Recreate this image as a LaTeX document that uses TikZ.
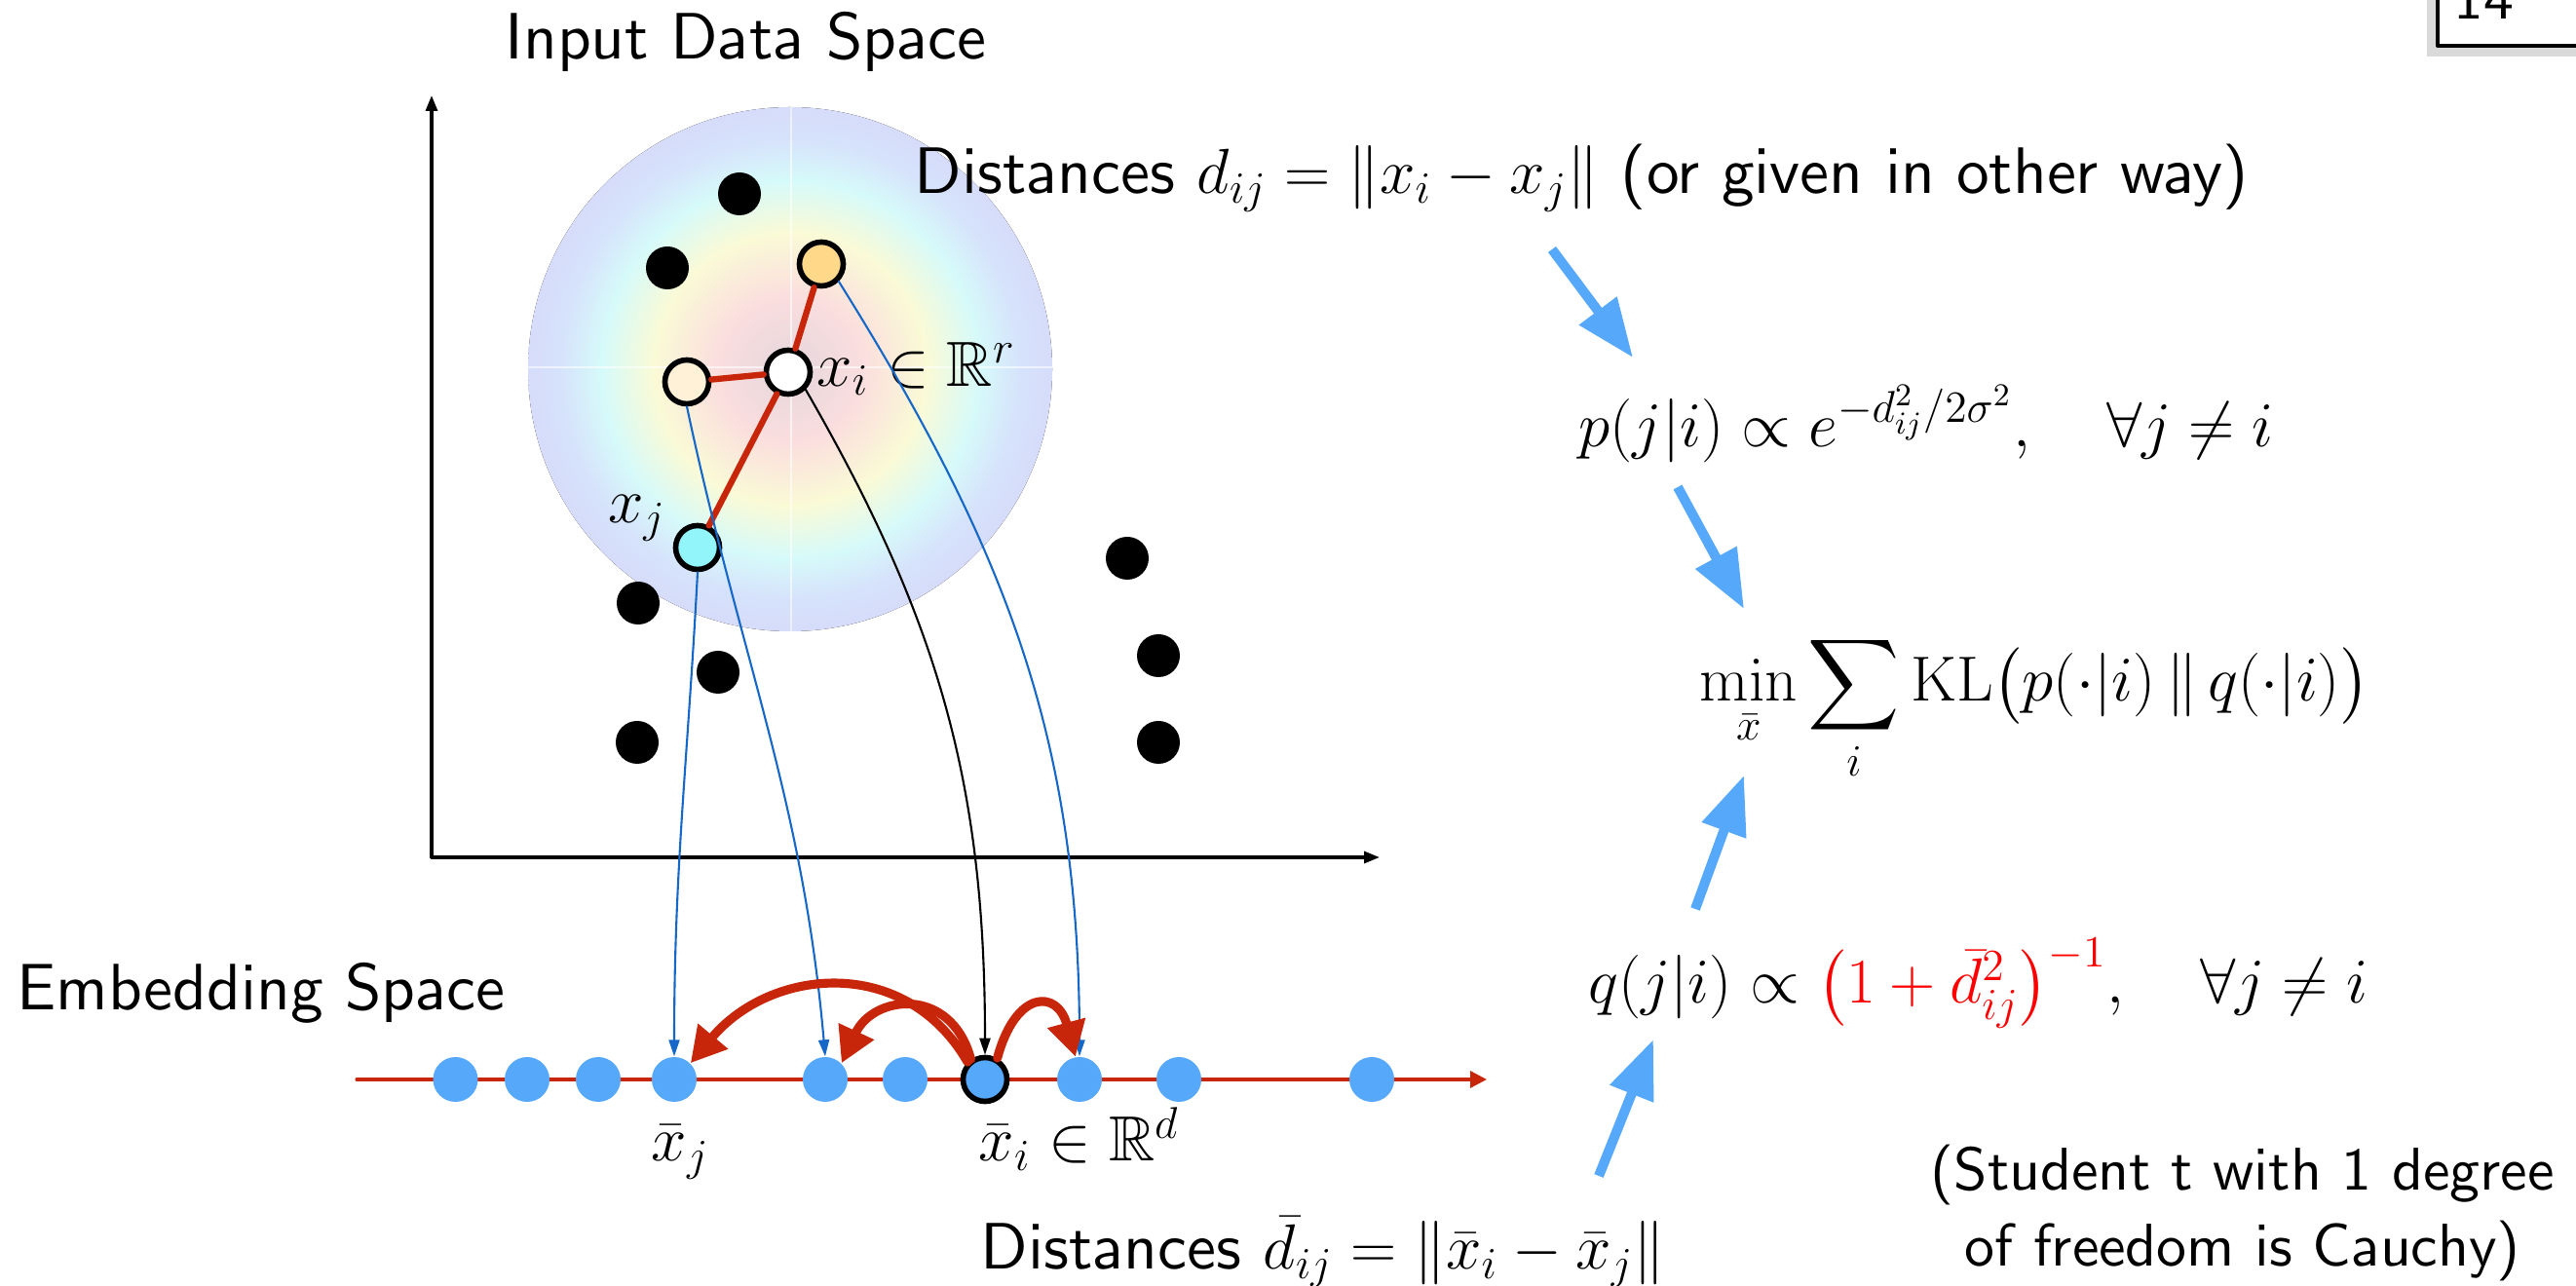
\RequirePackage{fix-cm}
\documentclass[tikz,border=0pt]{standalone}
\usepackage{amsmath,amssymb}
\usepackage{xcolor}
\usetikzlibrary{arrows.meta,calc,positioning,shadows}
\DeclareFontFamily{OT1}{slidess}{}
\DeclareFontShape{OT1}{slidess}{m}{n}{<-> s*[1.03] cmss10}{}
\newcommand{\slidefont}[1]{\fontsize{#1}{1.2\dimexpr#1pt\relax}\fontencoding{OT1}\fontfamily{slidess}\selectfont}
\definecolor{tsnered}{RGB}{200,38,10}
\definecolor{tsneblue}{RGB}{86,168,250}
\definecolor{linkblue}{RGB}{22,104,200}
\definecolor{nodeorange}{RGB}{255,216,138}
\definecolor{nodecream}{RGB}{255,240,216}
\definecolor{nodecyan}{RGB}{145,245,250}
\definecolor{blobA}{RGB}{228,214,220}
\definecolor{blobB}{RGB}{251,222,222}
\definecolor{blobC}{RGB}{250,250,214}
\definecolor{blobD}{RGB}{214,250,250}
\definecolor{blobE}{RGB}{214,226,251}
\definecolor{blobF}{RGB}{214,220,250}
\pgfdeclareradialshading{gaussblob}{\pgfpointorigin}{%
  color(0bp)=(blobA); color(7bp)=(blobB); color(13bp)=(blobC);
  color(18bp)=(blobD); color(22bp)=(blobE); color(25bp)=(blobF); color(50bp)=(blobF)}
\tikzset{
  datapt/.style={circle, fill=black, minimum size=0.44cm, inner sep=0pt},
  selpt/.style={circle, draw=black, line width=1.6pt, minimum size=0.45cm, inner sep=0pt},
  embpt/.style={circle, fill=tsneblue, minimum size=0.46cm, inner sep=0pt},
  lbl/.style={inner sep=0pt},
  nbredge/.style={tsnered, line width=1.8pt},
  maplink/.style={linkblue, line width=0.6pt, -{Triangle[length=0.17cm,width=0.11cm]}},
  pullarrow/.style={tsnered, line width=2.6pt, -{Triangle[length=0.36cm,width=0.38cm]}},
  flowarrow/.style={tsneblue, line width=0.1cm, line cap=butt, -{Triangle[length=0.6cm,width=0.46cm]}},
}
\begin{document}
\begin{tikzpicture}[>=Stealth, line cap=round, line join=round, font=\slidefont{18.6}]
  \path[use as bounding box] (0,0) rectangle (26.44,13.19);

  % input space: soft neighbourhood around x_i
  \fill[shading=gaussblob] (8.11,9.40) circle (2.69);
  \draw[white, opacity=0.6, line width=0.6pt] (5.42,9.42) -- (10.80,9.42) (8.12,6.71) -- (8.12,12.09);

  \coordinate (orig) at (4.43,4.39);
  \draw[line width=0.9pt, -{Triangle[length=0.16cm,width=0.12cm]}] (orig) -- (4.43,12.21);
  \draw[line width=0.9pt, -{Triangle[length=0.16cm,width=0.12cm]}] (orig) -- (14.16,4.39);
  \node[lbl, anchor=base west] (intitle) at (5.18,12.58) {Input Data Space};

  \foreach \x/\y [count=\i] in {7.59/11.20, 6.85/10.44, 6.55/7.00, 7.37/6.29, 6.54/5.57,
                                11.57/7.46, 11.89/6.46, 11.89/5.57}
    \node[datapt] (d\i) at (\x,\y) {};

  \node[selpt, fill=nodeorange] (xk) at (8.43,10.48) {};
  \node[selpt, fill=nodecream] (xl) at (7.05,9.27) {};
  \node[selpt, fill=white] (xi) at (8.09,9.37) {};
  \node[selpt, fill=nodecyan] (xj) at (7.16,7.57) {};
  \draw[nbredge] (xk) -- (xi) (xl) -- (xi) (xi) -- (xj);
  \node[lbl, anchor=base west] (xilab) at ([xshift=1pt,yshift=-4pt]xi.east) {$x_i \in \mathbb{R}^r$};
  \node[lbl, anchor=base east] (xjlab) at (6.84,7.82) {$x_j$};

  % embedding space
  \node[lbl, anchor=base west] (embtitle) at (0.17,2.82) {Embedding Space};
  \draw[tsnered, line width=0.9pt, -{Triangle[length=0.17cm,width=0.17cm]}] (3.66,2.11) -- (15.26,2.11);
  \foreach \x/\i in {4.675/1, 5.41/2, 6.14/3, 6.92/4, 8.47/5, 9.29/6, 11.08/8, 12.10/9, 14.08/10}
    \node[embpt] (e\i) at (\x,2.11) {};
  \node[selpt, fill=tsneblue] (xbi) at (10.11,2.11) {};
  \node[lbl, anchor=base west] (xbjlab) at (6.68,1.27) {$\bar{x}_j$};
  \node[lbl, anchor=base west] (xbilab) at (10.04,1.27) {$\bar{x}_i \in \mathbb{R}^d$};

  % mapping of the points
  \draw[maplink] (xj.south) to[out=-93,in=90] (e4.north);
  \draw[maplink] (xl.south) to[out=-78,in=95] (e5.north);
  \draw[maplink, black] (xi.south east) to[out=-60,in=90] (xbi.north);
  \draw[maplink] (xk.south east) to[out=-58,in=90] (e8.north);

  \draw[pullarrow] (xbi.135) to[out=120,in=50,looseness=1.15] (e4.45);
  \draw[pullarrow] (xbi.125) to[out=105,in=65,looseness=1.5] (e5.45);
  \draw[pullarrow] (xbi.60) to[out=75,in=105,looseness=2.3] (e8.100);

  % formulas
  \node[lbl, anchor=base west] (dtop) at (9.38,11.20) {Distances $d_{ij} = \|x_i - x_j\|$ (or given in other way)};
  \node[lbl, anchor=base west] (pji) at (16.20,8.60) {$p(j|i) \propto e^{-d_{ij}^2/2\sigma^2}, \quad \forall j \neq i$};
  \node[lbl, anchor=base west] (klobj) at (17.44,5.99) {$\displaystyle\min_{\bar{x}} \sum_i \mathrm{KL}\bigl(p(\cdot|i)\,\|\,q(\cdot|i)\bigr)$};
  \node[lbl, anchor=base west] (qji) at (16.30,2.89) {$q(j|i) \propto {\color{red}\bigl(1+\bar{d}_{ij}^2\bigr)^{-1}}, \quad \forall j \neq i$};
  \node[lbl, anchor=base west] (dbot) at (10.06,0.16) {Distances $\bar{d}_{ij} = \|\bar{x}_i - \bar{x}_j\|$};
  \node[lbl, align=center, font=\fontsize{17.1}{22.2}\fontencoding{OT1}\fontfamily{slidess}\selectfont]
    (cauchy) at (23.02,0.74) {(Student t with 1 degree\\of freedom is Cauchy)};

  \coordinate (f1s) at (15.93,10.63);
  \coordinate (f1e) at (16.76,9.52);
  \coordinate (f2s) at (17.22,8.19);
  \coordinate (f2e) at (17.90,6.94);
  \coordinate (f3s) at (17.40,3.86);
  \coordinate (f3e) at (17.90,5.23);
  \coordinate (f4s) at (16.41,1.12);
  \coordinate (f4e) at (16.97,2.52);
  \foreach \k in {1,...,4}
    \draw[flowarrow] (f\k s) -- (f\k e);

  % page number box
  \path[draw, line width=1.2pt, fill=white, drop shadow={shadow xshift=-3pt, shadow yshift=-3pt, opacity=0.3}]
    (25.02,12.72) rectangle (26.70,13.50);
  \node[lbl, anchor=base west, font=\slidefont{17}] (pgnum) at (25.18,12.99) {14};
\end{tikzpicture}
\end{document}
